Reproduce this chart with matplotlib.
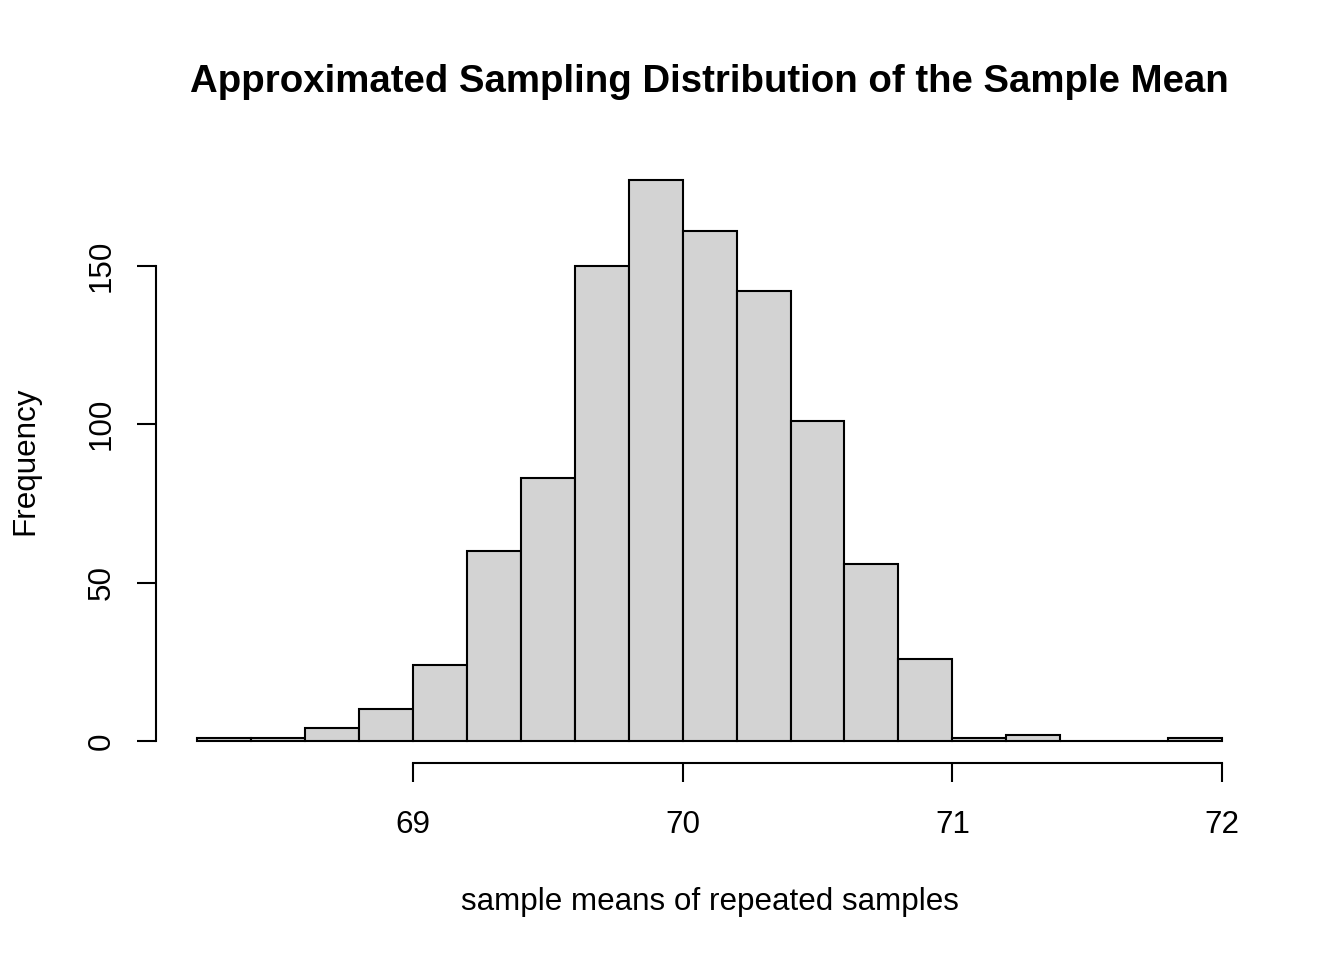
import matplotlib
matplotlib.use("Agg")
import matplotlib.pyplot as plt
import numpy as np

plt.rcParams['font.family'] = ['Liberation Sans', 'DejaVu Sans']

bin_edges = [68.2, 68.4, 68.6, 68.8, 69.0, 69.2, 69.4, 69.6, 69.8, 70.0,
             70.2, 70.4, 70.6, 70.8, 71.0, 71.2, 71.4, 71.6, 71.8, 72.0]
counts = [1, 1, 4, 10, 24, 60, 83, 150, 177, 161, 142, 101, 56, 26, 1, 2, 0, 0, 1]
x_ticks = [69, 70, 71, 72]
y_ticks = [0, 50, 100, 150]

title = "Approximated Sampling Distribution of the Sample Mean"
xlabel = "sample means of repeated samples"
ylabel = "Frequency"

W, H = 1344, 960
fig = plt.figure(figsize=(W / 100, H / 100), dpi=100)
left, right, top, bottom = 156.2, 1263.0, 158.0, 763.4
ax = fig.add_axes([left / W, 1 - bottom / H, (right - left) / W, (bottom - top) / H])

edges = np.array(bin_edges)
ax.bar(edges[:-1], counts, width=np.diff(edges), align='edge',
       color='#d3d3d3', edgecolor='black', linewidth=1.5)

xr = edges[-1] - edges[0]
ax.set_xlim(edges[0] - 0.04 * xr, edges[-1] + 0.04 * xr)
ymax = max(counts)
ax.set_ylim(-0.04 * ymax, ymax * 1.04)

for s in ['top', 'right']:
    ax.spines[s].set_visible(False)
ax.spines['left'].set_bounds(y_ticks[0], y_ticks[-1])
ax.spines['bottom'].set_bounds(x_ticks[0], x_ticks[-1])
for s in ['left', 'bottom']:
    ax.spines[s].set_linewidth(1.5)

ax.set_xticks(x_ticks)
ax.set_xticklabels([str(t) for t in x_ticks])
ax.set_yticks(y_ticks)
ax.set_yticklabels([str(t) for t in y_ticks], rotation=90, va='center')
ax.tick_params(axis='both', length=13.7, width=1.5, labelsize=22.6)
ax.tick_params(axis='x', pad=20)
ax.tick_params(axis='y', pad=14.5)

fig.text(709.5 / W, 1 - 82 / H, title, ha='center', va='center',
         fontsize=27.6, fontweight='bold')
fig.text(709.5 / W, 1 - 902 / H, xlabel, ha='center', va='center', fontsize=22.6)
fig.text(25 / W, 1 - 460.5 / H, ylabel, ha='center', va='center', fontsize=22.6,
         rotation=90)

fig.savefig("out.png", dpi=100, facecolor='white')
